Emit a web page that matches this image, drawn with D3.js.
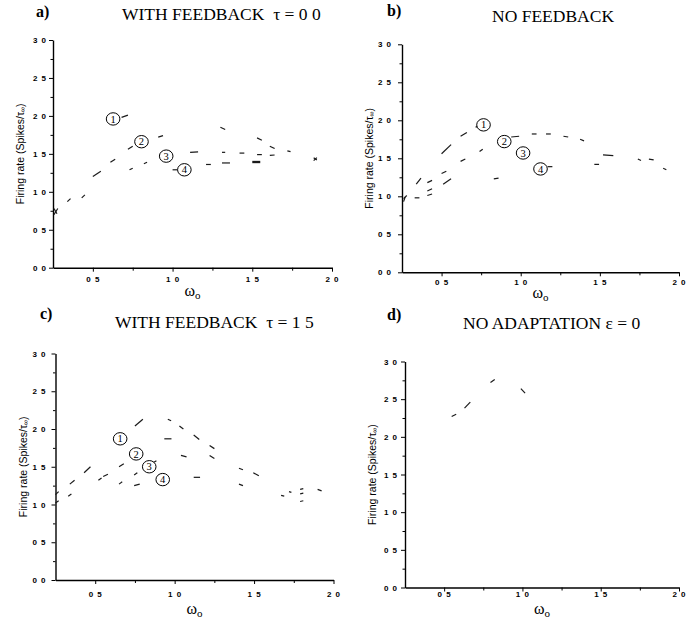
<!DOCTYPE html>
<html>
<head>
<meta charset="utf-8">
<script src="https://cdn.jsdelivr.net/npm/d3@7"></script>
<style>
  html, body { margin: 0; padding: 0; background: #fff; }
  svg { display: block; }
</style>
</head>
<body>
<svg id="fig" width="687" height="624"></svg>
<script>
// Axis ticks shared by all four panels
const xTicks = [0.5, 1.0, 1.5, 2.0];
const xMinorTicks = [0.75, 1.25, 1.75];
const yTicks = [0, 0.5, 1.0, 1.5, 2.0, 2.5, 3.0];
const yMinorTicks = [0.25, 0.75, 1.25, 1.75, 2.25, 2.75];

const panelLetters = ["a)", "b)", "c)", "d)"];
const panelTitles = ["WITH FEEDBACK  \u03c4 = 0 0", "NO FEEDBACK", "WITH FEEDBACK  \u03c4 = 1 5", "NO ADAPTATION \u03b5 = 0"];

// Firing-rate traces: each entry is one visible dash [w0, rate0, w1, rate1]
const traceA = [
  [0.256, 0.70, 0.280, 0.78], [0.256, 0.78, 0.275, 0.71],
  [0.34, 0.87, 0.36, 0.91], [0.43, 0.92, 0.45, 0.96],
  [0.50, 1.20, 0.55, 1.27], [0.61, 1.39, 0.64, 1.43],
  [0.72, 1.56, 0.75, 1.60], [0.68, 1.98, 0.72, 2.01],
  [0.91, 1.72, 0.94, 1.74], [1.30, 1.85, 1.33, 1.82],
  [1.53, 1.71, 1.56, 1.68], [1.61, 1.60, 1.64, 1.57],
  [1.72, 1.54, 1.74, 1.53],
  [1.885, 1.41, 1.905, 1.45], [1.885, 1.45, 1.905, 1.42],
  [1.11, 1.52, 1.16, 1.525], [1.31, 1.52, 1.33, 1.52],
  [1.42, 1.51, 1.45, 1.51], [1.53, 1.49, 1.56, 1.49],
  [1.61, 1.48, 1.64, 1.485],
  [0.73, 1.29, 0.75, 1.31], [0.82, 1.37, 0.84, 1.39],
  [1.00, 1.29, 1.03, 1.29], [1.21, 1.36, 1.24, 1.36],
  [1.31, 1.38, 1.36, 1.38], [1.50, 1.40, 1.55, 1.40], [1.50, 1.385, 1.55, 1.385]
];
const traceB = [
  [0.26, 0.97, 0.28, 1.01], [0.26, 0.93, 0.27, 0.99],
  [0.33, 0.98, 0.36, 0.98],
  [0.34, 1.16, 0.37, 1.24], [0.41, 1.18, 0.44, 1.21],
  [0.41, 1.07, 0.44, 1.10], [0.41, 1.01, 0.44, 1.03],
  [0.50, 1.30, 0.53, 1.33], [0.51, 1.16, 0.56, 1.23],
  [0.50, 1.56, 0.56, 1.68], [0.62, 1.46, 0.65, 1.49],
  [0.62, 1.79, 0.66, 1.84], [0.74, 1.59, 0.76, 1.62],
  [0.715, 1.91, 0.73, 1.92],
  [0.83, 1.23, 0.86, 1.24], [0.94, 1.78, 0.99, 1.79],
  [1.07, 1.82, 1.10, 1.82], [1.16, 1.82, 1.19, 1.82],
  [1.27, 1.79, 1.30, 1.78], [1.375, 1.75, 1.40, 1.73],
  [1.465, 1.42, 1.495, 1.42], [1.52, 1.545, 1.585, 1.535],
  [1.74, 1.49, 1.76, 1.47], [1.81, 1.49, 1.84, 1.48],
  [1.90, 1.37, 1.92, 1.35], [1.17, 1.39, 1.20, 1.39]
];
const traceC = [
  [0.25, 1.13, 0.27, 1.17], [0.25, 1.02, 0.27, 1.05],
  [0.33, 1.11, 0.35, 1.14], [0.34, 1.27, 0.37, 1.32],
  [0.43, 1.42, 0.47, 1.50], [0.52, 1.32, 0.54, 1.35],
  [0.55, 1.37, 0.58, 1.40], [0.65, 1.27, 0.67, 1.30],
  [0.65, 1.50, 0.68, 1.54], [0.745, 1.25, 0.78, 1.27],
  [0.745, 1.39, 0.765, 1.42], [0.75, 2.04, 0.80, 2.13],
  [0.87, 1.56, 0.885, 1.58], [0.935, 1.87, 0.98, 1.87],
  [0.957, 2.13, 0.978, 2.11], [1.03, 2.04, 1.055, 2.00],
  [1.04, 1.65, 1.075, 1.63], [1.12, 1.36, 1.16, 1.36],
  [1.12, 1.92, 1.155, 1.86], [1.22, 1.78, 1.25, 1.74],
  [1.22, 1.65, 1.25, 1.61], [1.405, 1.48, 1.43, 1.46],
  [1.405, 1.27, 1.43, 1.25], [1.495, 1.42, 1.53, 1.38],
  [1.67, 1.12, 1.69, 1.11], [1.72, 1.17, 1.735, 1.16],
  [1.79, 1.20, 1.81, 1.21], [1.79, 1.14, 1.81, 1.15],
  [1.79, 1.04, 1.81, 1.05], [1.90, 1.20, 1.925, 1.18]
];
const traceD = [
  [0.548, 2.27, 0.577, 2.30], [0.63, 2.38, 0.667, 2.46],
  [0.796, 2.72, 0.823, 2.76], [0.99, 2.64, 1.017, 2.58]
];

// Circled curve numbers: [w, rate, label]
const labelsA = [[0.627, 1.96, "1"], [0.805, 1.66, "2"], [0.96, 1.47, "3"], [1.074, 1.29, "4"]];
const labelsB = [[0.765, 1.94, "1"], [0.896, 1.72, "2"], [1.015, 1.57, "3"], [1.125, 1.36, "4"]];
const labelsC = [[0.657, 1.87, "1"], [0.758, 1.67, "2"], [0.84, 1.50, "3"], [0.925, 1.33, "4"]];
const labelsD = [];

const traces = [traceA, traceB, traceC, traceD];
const labels = [labelsA, labelsB, labelsC, labelsD];

// Panel geometry (pixels)
const panels = [
  { x0: 53,  x1: 332, yb: 267.7, yt: 40,   letter: [36, 17],  title: [122, 20], ytPad: 2, xtPad: 4.8, xlab: 28 },
  { x0: 402, x1: 679, yb: 272.3, yt: 44.3, letter: [387, 16], title: [492, 21.5], ytPad: 6, xtPad: 3.3, xlab: 26 },
  { x0: 55.5, x1: 333.5, yb: 580, yt: 353.5, letter: [40, 319], title: [115, 328], ytPad: 5, xtPad: 7.3, xlab: 34 },
  { x0: 405, x1: 679, yb: 587.5, yt: 361.5, letter: [387, 320], title: [463, 329], ytPad: 3, xtPad: 0.3, xlab: 26 }
];

const svg = d3.select("#fig");
const fmt = d => d.toFixed(1).replace(".", " ");

panels.forEach((p, i) => {
  const x = d3.scaleLinear().domain([0.25, 2.0]).range([p.x0, p.x1]);
  const y = d3.scaleLinear().domain([0, 3.0]).range([p.yb, p.yt]);
  const g = svg.append("g");

  // panel letter and title
  g.append("text")
    .attr("x", p.letter[0]).attr("y", p.letter[1])
    .attr("font-family", "Liberation Serif, serif")
    .attr("font-weight", "bold").attr("font-size", 16)
    .text(panelLetters[i]);
  g.append("text")
    .attr("x", p.title[0]).attr("y", p.title[1])
    .attr("font-family", "Liberation Serif, serif")
    .attr("font-size", 17.5)
    .attr("xml:space", "preserve")
    .text(panelTitles[i]);

  // axes
  g.append("g").attr("transform", `translate(${p.x0},0)`)
    .call(d3.axisLeft(y).tickValues(yTicks).tickSize(4).tickSizeOuter(0).tickPadding(p.ytPad).tickFormat(fmt));
  g.append("g").attr("transform", `translate(${p.x0},0)`)
    .call(d3.axisLeft(y).tickValues(yMinorTicks).tickSize(2.5).tickFormat(""))
    .select(".domain").remove();
  g.append("g").attr("transform", `translate(0,${p.yb})`)
    .call(d3.axisBottom(x).tickValues(xTicks).tickSize(4).tickSizeOuter(0).tickPadding(p.xtPad).tickFormat(fmt));
  g.append("g").attr("transform", `translate(0,${p.yb})`)
    .call(d3.axisBottom(x).tickValues(xMinorTicks).tickSize(3).tickFormat(""))
    .select(".domain").remove();

  g.selectAll(".domain").attr("stroke", "#000").attr("stroke-width", 1.4);
  g.selectAll(".tick line").attr("stroke", "#000").attr("stroke-width", 1);
  g.selectAll(".tick text")
    .attr("font-family", "Liberation Sans, Arial, sans-serif")
    .attr("font-weight", "bold").attr("font-size", 8)
    .attr("letter-spacing", 1)
    .attr("fill", "#000");

  // axis titles
  const ycx = p.x0 - 33, ycy = (p.yb + p.yt) / 2;
  const yl = g.append("text")
    .attr("transform", `translate(${ycx},${ycy}) rotate(-90)`)
    .attr("text-anchor", "middle").attr("dominant-baseline", "central")
    .attr("font-family", "Liberation Sans, Arial, sans-serif")
    .attr("font-size", 10.5);
  yl.append("tspan").text("Firing rate (Spikes/\u03c4");
  yl.append("tspan").attr("font-size", 7).attr("dy", 2).text("\u221e");
  yl.append("tspan").attr("dy", -2).text(")");

  const xl = g.append("text")
    .attr("x", (p.x0 + p.x1) / 2).attr("y", p.yb + p.xlab)
    .attr("text-anchor", "middle")
    .attr("font-family", "Liberation Serif, serif")
    .attr("font-size", 16);
  xl.append("tspan").text("\u03c9");
  xl.append("tspan").attr("font-size", 11).attr("dy", 3).text("o");

  // data dashes
  g.append("g").selectAll("line").data(traces[i]).join("line")
    .attr("x1", d => x(d[0])).attr("y1", d => y(d[1]))
    .attr("x2", d => x(d[2])).attr("y2", d => y(d[3]))
    .attr("stroke", "#1a1a1a").attr("stroke-width", 1.2);

  // circled curve numbers
  const lab = g.append("g").selectAll("g").data(labels[i]).join("g")
    .attr("transform", d => `translate(${x(d[0])},${y(d[1])})`);
  lab.append("ellipse").attr("rx", 6.8).attr("ry", 6.2)
    .attr("fill", "#fff").attr("stroke", "#000").attr("stroke-width", 1);
  lab.append("text").attr("text-anchor", "middle").attr("dy", 3.6)
    .attr("font-family", "Liberation Serif, serif").attr("font-size", 10.5)
    .text(d => d[2]);
});
</script>
</body>
</html>
